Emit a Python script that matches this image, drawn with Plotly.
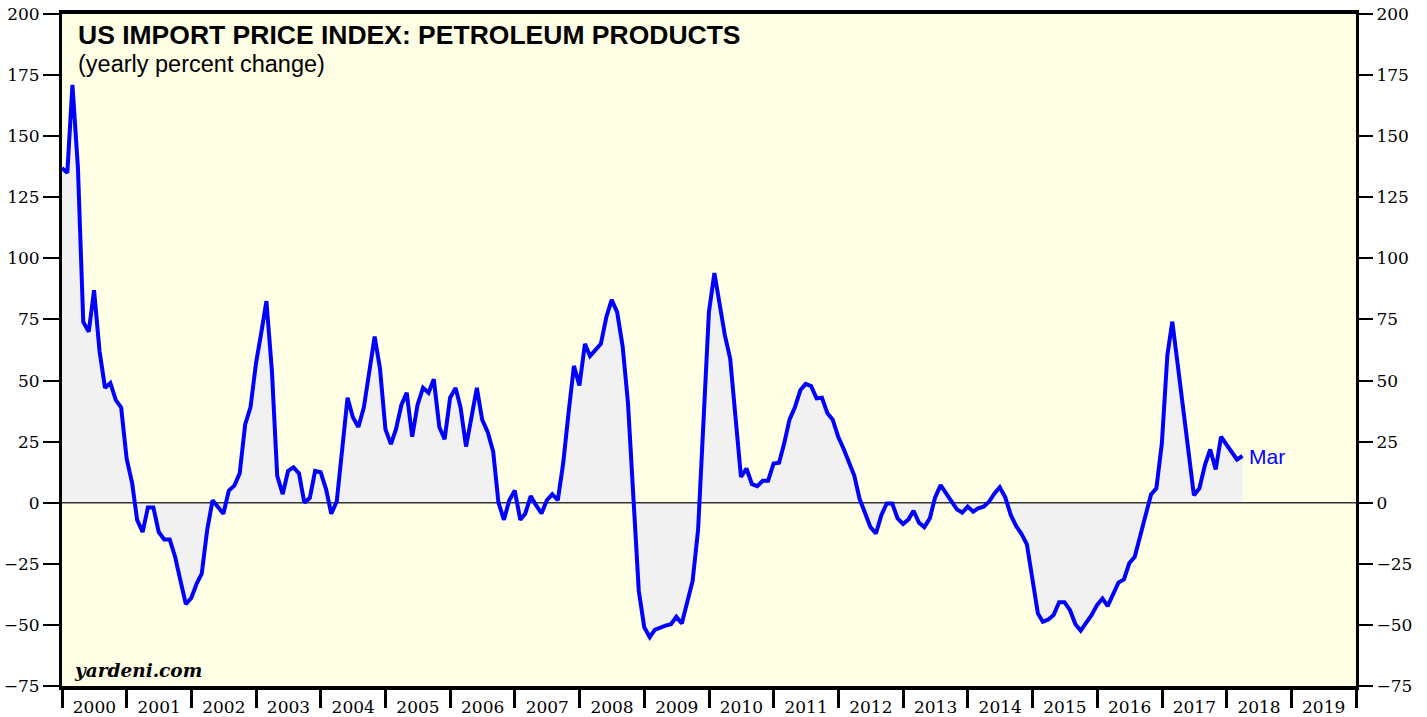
import pandas as pd
import plotly.graph_objects as go

# yearly % change, monthly from Dec 1999 to Mar 2018
yoy_pct = [
    137, 135, 171, 137, 74, 70, 87, 62, 47, 49, 42, 39, 18,
    8, -7, -12, -2, -2, -12, -15, -15, -22, -32, -41.5, -39,
    -33, -29, -11, 1, -2, -4.5, 5, 7, 12, 32, 39, 57,
    70, 82.5, 54, 11, 3.5, 13, 14.5, 12, 0, 2, 13, 12.5,
    5.5, -4.5, 0.5, 23, 43, 35, 31, 39, 54, 68, 55, 30,
    24, 30, 40, 45, 27, 40, 47, 45, 50.5, 31, 26, 43,
    47, 39, 23, 35, 47, 34, 29, 21, 0, -7, 1, 5,
    -7, -4.5, 2.7, -1, -4.4, 1, 3.5, 1, 16, 37, 56, 48,
    65, 60, 62.5, 65, 76, 83, 78, 64, 41, 3, -36, -51,
    -55, -52, -51, -50.3, -49.7, -46.7, -49.4, -40, -32, -11, 34, 78,
    94, 81.6, 68.6, 59, 35, 10.6, 14, 7.6, 6.8, 9, 9, 16,
    16.4, 24, 34, 39, 46, 48.6, 47.7, 42.7, 43, 36.6, 34, 27,
    22, 16.8, 11, 1.5, -4.5, -10, -12.6, -5, -0.3, -0.3, -6.4, -8.7,
    -6.8, -3.3, -8.2, -10, -6.4, 2.2, 7.2, 3.8, 1.1, -2.7, -4.1, -1.6,
    -3.7, -2.3, -1.6, 0.4, 3.8, 6.3, 2.2, -5, -9.5, -12.8, -17, -31.4,
    -45.3, -48.7, -47.8, -46, -40.7, -40.7, -43.9, -49.7, -52.4, -49.1, -46, -41.9,
    -39.2, -42.3, -37.8, -32.7, -31.4, -24.8, -22.1, -13.2, -4.1, 3.4, 5.9, 24.3,
    60.4, 74.1, 56.3, 37.9, 20.2, 3.1, 5.9, 15.4, 21.8, 13.6, 27, 24,
    20.5, 17.7, 19.1,
]
months = pd.date_range("1999-12-31", periods=len(yoy_pct), freq="ME")
last_label = "Mar"

y_ticks = list(range(-75, 201, 25))
y_range = [-75, 200]
x_range = ["2000-01-01", "2020-01-01"]

serif = "DejaVu Serif, Georgia, serif"
sans = "Liberation Sans, Arial, Helvetica, sans-serif"
blue = "#0000FF"

fig = go.Figure()

# grey area under the curve
fig.add_trace(go.Scatter(
    x=months, y=yoy_pct, mode="lines", line=dict(width=0),
    fill="tozeroy", fillcolor="#F1F1F1", hoverinfo="skip", yaxis="y",
))
# zero line, over the fill but under the blue line
fig.add_trace(go.Scatter(
    x=x_range, y=[0, 0], mode="lines",
    line=dict(color="#333333", width=1.5), hoverinfo="skip", yaxis="y",
))
fig.add_trace(go.Scatter(
    x=months, y=yoy_pct, mode="lines",
    line=dict(color=blue, width=4), yaxis="y2",
))

yaxis_common = dict(
    range=y_range, tickvals=y_ticks, ticks="outside", ticklen=16,
    tickwidth=1.5, tickcolor="black", showgrid=False, zeroline=False,
    automargin=False,
    tickfont=dict(family=serif, size=17, color="black"),
)

fig.update_layout(
    width=1427, height=717,
    margin=dict(l=62, r=71, t=14, b=31, autoexpand=False),
    paper_bgcolor="white",
    plot_bgcolor="#FFFFE6",
    showlegend=False,
    xaxis=dict(
        type="date", range=x_range, dtick="M12", tick0="2000-01-01",
        tickformat="%Y", ticklabelmode="period", ticks="outside",
        ticklen=18, tickwidth=2.5, tickcolor="black",
        ticklabelstandoff=-15, automargin=False,
        showline=True, linewidth=3.5, linecolor="black", mirror=True,
        showgrid=False, zeroline=False,
        tickfont=dict(family=serif, size=17, color="black"),
    ),
    yaxis=dict(
        side="left", showline=True, linewidth=3, linecolor="black",
        mirror=True, **yaxis_common,
    ),
    yaxis2=dict(
        overlaying="y", side="right", showline=False, **yaxis_common,
    ),
    annotations=[
        dict(text="<b>US IMPORT PRICE INDEX: PETROLEUM PRODUCTS</b>",
             xref="paper", yref="paper", x=0.0105, y=0.969,
             xanchor="left", yanchor="middle", showarrow=False,
             font=dict(family=sans, size=26.5, color="black")),
        dict(text="(yearly percent change)",
             xref="paper", yref="paper", x=0.0105, y=0.926,
             xanchor="left", yanchor="middle", showarrow=False,
             font=dict(family=sans, size=23.5, color="black")),
        dict(text="<b><i>yardeni.com</i></b>",
             xref="paper", yref="paper", x=0.008, y=0.005,
             xanchor="left", yanchor="bottom", showarrow=False,
             font=dict(family=serif, size=18.5, color="black")),
        dict(text=last_label, x=months[-1], y=yoy_pct[-1],
             xref="x", yref="y2", xanchor="left", yanchor="middle",
             xshift=5, showarrow=False,
             font=dict(family=sans, size=21, color=blue)),
    ],
)

# drop the browser's default 8px body margin so the figure sits at 0,0
fig.write_html("out.html", config={"displayModeBar": False},
               post_script="document.body.style.margin='0';")
